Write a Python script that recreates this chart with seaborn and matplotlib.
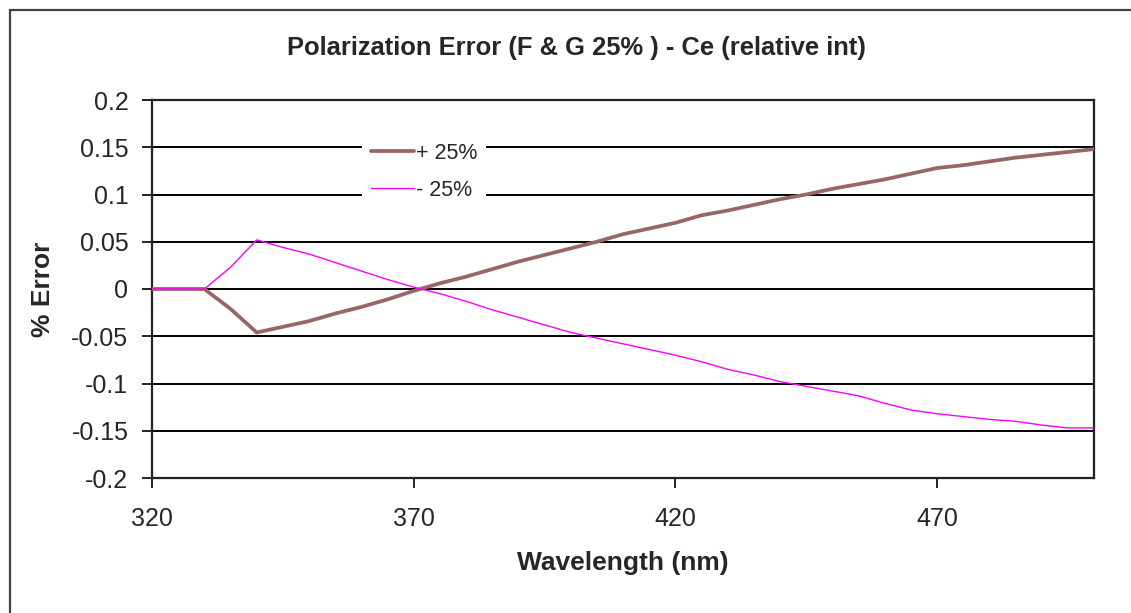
import numpy as np
import pandas as pd
import matplotlib
matplotlib.use("Agg")
import matplotlib.pyplot as plt
from matplotlib.patches import Rectangle
import seaborn as sns

wavelength = [320, 325, 330, 335, 340, 345, 350, 355, 360, 365, 370, 375, 380, 385,
              390, 395, 400, 405, 410, 415, 420, 425, 430, 435, 440, 445, 450, 455,
              460, 465, 470, 475, 480, 485, 490, 495, 500]
plus_25 = [0, 0, 0, -0.021, -0.046, -0.040, -0.034, -0.026, -0.019, -0.011, -0.002,
           0.006, 0.013, 0.021, 0.029, 0.036, 0.043, 0.050, 0.058, 0.064, 0.070,
           0.078, 0.083, 0.089, 0.095, 0.100, 0.106, 0.111, 0.116, 0.122, 0.128,
           0.131, 0.135, 0.139, 0.142, 0.145, 0.148]
minus_25 = [0, 0, 0, 0.023, 0.052, 0.044, 0.037, 0.028, 0.019, 0.010, 0.002,
            -0.005, -0.013, -0.022, -0.030, -0.038, -0.046, -0.052, -0.058, -0.064,
            -0.070, -0.077, -0.085, -0.091, -0.098, -0.103, -0.108, -0.113, -0.121,
            -0.128, -0.132, -0.135, -0.138, -0.140, -0.144, -0.147, -0.147]
series_names = ["+ 25%", "- 25%"]
x_ticks = [320, 370, 420, 470]
y_ticks = [-0.2, -0.15, -0.1, -0.05, 0, 0.05, 0.1, 0.15, 0.2]
y_tick_labels = ["-0.2", "-0.15", "-0.1", "-0.05", "0", "0.05", "0.1", "0.15", "0.2"]

df = pd.concat([
    pd.DataFrame({"Wavelength": wavelength, "Error": plus_25, "Series": series_names[0]}),
    pd.DataFrame({"Wavelength": wavelength, "Error": minus_25, "Series": series_names[1]}),
])

sns.set_style("white")
plt.rcParams["font.family"] = ["Liberation Sans", "DejaVu Sans"]

fig = plt.figure(figsize=(11.31, 6.13), dpi=100)
ax = fig.add_axes([152/1131, 1 - 478/613, (1094-152)/1131, (478-100)/613])

for y in y_ticks:
    ax.axhline(y, color="black", lw=1.4, zorder=1)

palette = {series_names[0]: "#996666", series_names[1]: "#FF00FF"}
sns.lineplot(data=df, x="Wavelength", y="Error", hue="Series", palette=palette,
             ax=ax, legend=False, zorder=3, sort=False)
lines = ax.get_lines()[-2:]
lines[0].set_linewidth(2.7)
lines[1].set_linewidth(1.0)

ax.set_xlim(320, 500)
ax.set_ylim(-0.2, 0.2)
ax.set_xticks(x_ticks)
ax.set_yticks(y_ticks)
ax.set_yticklabels(y_tick_labels)
ax.tick_params(axis="both", direction="out", length=7, width=1.4, color="#222222",
               labelsize=18, bottom=True, left=True)
ax.tick_params(axis="x", pad=14)
ax.tick_params(axis="y", pad=10)
for s in ax.spines.values():
    s.set_color("#222222")
    s.set_linewidth(1.6)

ax.set_xlabel("Wavelength (nm)", fontsize=19, fontweight="bold", labelpad=14)
ax.set_ylabel("% Error", fontsize=19, fontweight="bold", labelpad=12)
fig.text(576/1131, 1 - 48/613, "Polarization Error (F & G 25% ) - Ce (relative int)",
         ha="center", va="center", fontsize=18.4, fontweight="bold")

leg = ax.legend(lines, series_names, loc="upper left",
                bbox_to_anchor=(0.223, 0.91), frameon=True, fontsize=15.5,
                borderaxespad=0, handlelength=2.0, handletextpad=0.1,
                borderpad=0.4, labelspacing=0.75)
leg.get_frame().set_facecolor("white")
leg.get_frame().set_edgecolor("none")
leg.get_frame().set_alpha(1)
leg.set_zorder(5)

fig.patches.append(Rectangle((10/1131, -0.1), 1.2, 1 - 10/613 + 0.1,
                             transform=fig.transFigure, fill=False,
                             edgecolor="#444444", lw=1.6))

fig.savefig("out.png", dpi=100)
